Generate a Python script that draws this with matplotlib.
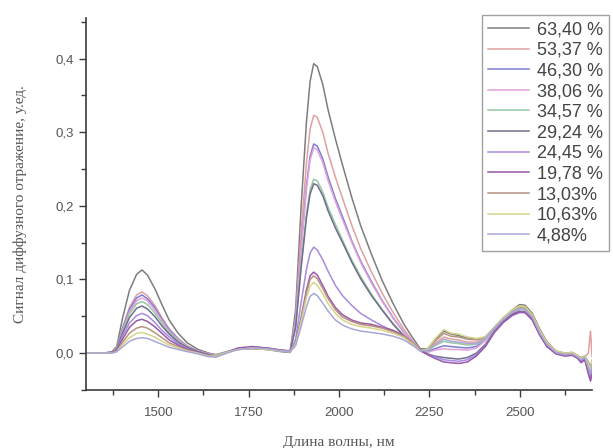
import matplotlib.pyplot as plt
from matplotlib.ticker import MultipleLocator, FuncFormatter

# Wavelength grid, nm
wavelength = [1300, 1340, 1370, 1385, 1400, 1420, 1440, 1455, 1470, 1490, 1510, 1530, 1555, 1580, 1610, 1640,
              1660, 1690, 1720, 1760, 1800, 1840, 1865,
              1880, 1895, 1910, 1920, 1930, 1940, 1955, 1970, 1990, 2010, 2035, 2060, 2090, 2120, 2150, 2180, 2205, 2225,
              2245, 2265, 2290, 2310, 2330, 2355, 2380, 2405, 2430, 2455, 2480,
              2500, 2515, 2535, 2555, 2575, 2600, 2625, 2645, 2660, 2670, 2680, 2690, 2696, 2700]

# Diffuse reflectance signal for each moisture level
y_6340 = [0, 0, 0.001, 0.009, 0.045, 0.085, 0.107, 0.113, 0.106, 0.088, 0.066, 0.045, 0.027, 0.014, 0.005, 0.0,
          -0.002, 0.002, 0.005, 0.006, 0.005, 0.002, 0.001,
          0.059, 0.197, 0.314, 0.369, 0.393, 0.389, 0.365, 0.330, 0.291, 0.255, 0.212, 0.173, 0.134, 0.098, 0.067, 0.039, 0.020, 0.006,
          0.006, 0.018, 0.030, 0.026, 0.024, 0.021, 0.019, 0.022, 0.035, 0.048, 0.059,
          0.066, 0.065, 0.054, 0.033, 0.016, 0.003, 0.000, 0.001, -0.003, -0.006, -0.004, -0.012, -0.020, -0.010]
y_5337 = [0, 0, 0.001, 0.007, 0.033, 0.062, 0.079, 0.083, 0.078, 0.065, 0.048, 0.033, 0.020, 0.010, 0.003, -0.001,
          -0.002, 0.002, 0.005, 0.006, 0.005, 0.003, 0.002,
          0.048, 0.162, 0.258, 0.304, 0.323, 0.320, 0.300, 0.271, 0.239, 0.210, 0.174, 0.142, 0.110, 0.081, 0.055, 0.032, 0.016, 0.005,
          0.004, 0.013, 0.022, 0.019, 0.018, 0.015, 0.015, 0.020, 0.034, 0.047, 0.058,
          0.064, 0.063, 0.052, 0.031, 0.015, 0.002, -0.001, 0.000, -0.004, -0.008, -0.005, 0.000, 0.030, -0.004]
y_4630 = [0, 0, 0.001, 0.006, 0.032, 0.059, 0.075, 0.079, 0.074, 0.062, 0.046, 0.032, 0.019, 0.009, 0.003, -0.001,
          -0.003, 0.002, 0.006, 0.007, 0.006, 0.003, 0.002,
          0.043, 0.142, 0.227, 0.267, 0.284, 0.281, 0.264, 0.239, 0.210, 0.185, 0.153, 0.125, 0.097, 0.071, 0.048, 0.028, 0.014, 0.004,
          0.002, 0.006, 0.010, 0.009, 0.008, 0.007, 0.009, 0.018, 0.033, 0.045, 0.055,
          0.060, 0.059, 0.049, 0.028, 0.012, 0.001, -0.002, -0.001, -0.005, -0.009, -0.006, -0.020, -0.030, -0.018]
y_3806 = [0, 0, 0.001, 0.006, 0.030, 0.056, 0.071, 0.075, 0.071, 0.059, 0.044, 0.030, 0.018, 0.009, 0.003, -0.001,
          -0.003, 0.002, 0.006, 0.007, 0.006, 0.003, 0.002,
          0.042, 0.140, 0.223, 0.262, 0.279, 0.276, 0.259, 0.234, 0.206, 0.181, 0.151, 0.123, 0.095, 0.070, 0.047, 0.028, 0.014, 0.004,
          0.001, 0.004, 0.006, 0.005, 0.005, 0.004, 0.007, 0.017, 0.033, 0.045, 0.055,
          0.060, 0.059, 0.048, 0.028, 0.012, 0.001, -0.002, -0.001, -0.005, -0.010, -0.006, -0.022, -0.031, -0.020]
y_3457 = [0, 0, 0.001, 0.006, 0.028, 0.053, 0.067, 0.070, 0.066, 0.055, 0.041, 0.028, 0.017, 0.008, 0.002, -0.002,
          -0.003, 0.002, 0.006, 0.007, 0.005, 0.003, 0.002,
          0.035, 0.118, 0.189, 0.222, 0.236, 0.234, 0.219, 0.198, 0.175, 0.153, 0.127, 0.104, 0.080, 0.059, 0.040, 0.024, 0.012, 0.004,
          0.003, 0.010, 0.016, 0.014, 0.013, 0.011, 0.012, 0.019, 0.034, 0.046, 0.057,
          0.062, 0.061, 0.050, 0.029, 0.013, 0.002, -0.001, 0.000, -0.004, -0.008, -0.005, -0.018, -0.026, -0.014]
y_2924 = [0, 0, 0.001, 0.005, 0.026, 0.048, 0.061, 0.064, 0.060, 0.050, 0.037, 0.026, 0.015, 0.008, 0.002, -0.002,
          -0.004, 0.001, 0.006, 0.008, 0.007, 0.004, 0.003,
          0.035, 0.115, 0.184, 0.216, 0.230, 0.228, 0.214, 0.193, 0.170, 0.150, 0.124, 0.101, 0.078, 0.058, 0.039, 0.023, 0.012, 0.004,
          -0.001, -0.004, -0.006, -0.007, -0.008, -0.006, 0.000, 0.012, 0.030, 0.043, 0.053,
          0.057, 0.056, 0.046, 0.026, 0.010, 0.000, -0.003, -0.002, -0.006, -0.011, -0.007, -0.024, -0.034, -0.022]
y_2445 = [0, 0, 0.001, 0.004, 0.022, 0.041, 0.051, 0.054, 0.051, 0.042, 0.031, 0.022, 0.013, 0.006, 0.001, -0.003,
          -0.004, 0.001, 0.006, 0.008, 0.007, 0.004, 0.003,
          0.019, 0.068, 0.114, 0.136, 0.144, 0.140, 0.127, 0.111, 0.092, 0.078, 0.065, 0.054, 0.045, 0.037, 0.030, 0.022, 0.012, 0.003,
          -0.002, -0.005, -0.009, -0.010, -0.011, -0.009, -0.002, 0.010, 0.029, 0.042, 0.051,
          0.055, 0.055, 0.045, 0.025, 0.010, 0.000, -0.003, -0.002, -0.006, -0.012, -0.008, -0.026, -0.036, -0.024]
y_1978 = [0, 0, 0.001, 0.004, 0.018, 0.035, 0.044, 0.046, 0.043, 0.036, 0.027, 0.018, 0.011, 0.005, 0.001, -0.003,
          -0.005, 0.001, 0.007, 0.009, 0.007, 0.004, 0.003,
          0.013, 0.048, 0.086, 0.105, 0.110, 0.106, 0.092, 0.077, 0.062, 0.052, 0.045, 0.041, 0.039, 0.035, 0.031, 0.024, 0.013, 0.004,
          -0.002, -0.007, -0.012, -0.013, -0.014, -0.012, -0.004, 0.009, 0.028, 0.042, 0.052,
          0.056, 0.055, 0.045, 0.025, 0.009, -0.001, -0.004, -0.003, -0.007, -0.013, -0.009, -0.028, -0.038, -0.026]
y_1303 = [0, 0, 0.0, 0.003, 0.014, 0.027, 0.034, 0.036, 0.034, 0.028, 0.021, 0.014, 0.009, 0.004, 0.0, -0.004,
          -0.004, 0.001, 0.005, 0.007, 0.006, 0.003, 0.002,
          0.013, 0.046, 0.082, 0.100, 0.105, 0.101, 0.088, 0.074, 0.059, 0.049, 0.043, 0.039, 0.037, 0.034, 0.029, 0.023, 0.013, 0.004,
          0.005, 0.016, 0.027, 0.023, 0.022, 0.019, 0.018, 0.021, 0.035, 0.048, 0.058,
          0.063, 0.062, 0.051, 0.030, 0.014, 0.002, -0.001, 0.000, -0.004, -0.007, -0.005, -0.016, -0.024, -0.012]
y_1063 = [0, 0, 0.0, 0.002, 0.011, 0.021, 0.027, 0.028, 0.026, 0.022, 0.016, 0.011, 0.007, 0.003, 0.0, -0.004,
          -0.004, 0.001, 0.005, 0.007, 0.005, 0.003, 0.002,
          0.012, 0.042, 0.075, 0.091, 0.096, 0.092, 0.081, 0.067, 0.054, 0.045, 0.039, 0.036, 0.034, 0.031, 0.027, 0.021, 0.012, 0.003,
          0.006, 0.019, 0.032, 0.027, 0.026, 0.022, 0.020, 0.022, 0.035, 0.048, 0.059,
          0.064, 0.063, 0.052, 0.031, 0.015, 0.003, 0.000, 0.001, -0.003, -0.007, -0.004, -0.014, -0.022, -0.010]
y_488 = [0, 0, 0.0, 0.002, 0.008, 0.016, 0.020, 0.021, 0.020, 0.016, 0.012, 0.008, 0.005, 0.002, -0.001, -0.005,
         -0.005, 0.000, 0.005, 0.007, 0.006, 0.003, 0.002,
         0.010, 0.036, 0.063, 0.077, 0.081, 0.078, 0.068, 0.057, 0.045, 0.038, 0.033, 0.030, 0.028, 0.026, 0.023, 0.018, 0.010, 0.003,
         0.004, 0.011, 0.019, 0.016, 0.015, 0.013, 0.013, 0.020, 0.034, 0.046, 0.056,
         0.060, 0.059, 0.049, 0.028, 0.012, 0.001, -0.002, -0.001, -0.005, -0.009, -0.006, -0.020, -0.029, -0.016]

series = [y_6340, y_5337, y_4630, y_3806, y_3457, y_2924, y_2445, y_1978, y_1303, y_1063, y_488]
labels = ['63,40 %', '53,37 %', '46,30 %', '38,06 %', '34,57 %', '29,24 %',
          '24,45 %', '19,78 %', '13,03%', '10,63%', '4,88%']
colors = ['#7d7d7d', '#e0a0a0', '#7c7cd6', '#e2a0da', '#98c8a4', '#6e6e8c',
          '#a88ae0', '#9858a8', '#b89080', '#d4d48c', '#a8a8d8']

fig = plt.figure(figsize=(6.13, 4.48), dpi=100)
ax = fig.add_axes([0.1403, 0.1295, 0.8254, 0.8303])

for y, lab, c in zip(series, labels, colors):
    ax.plot(wavelength, y, color=c, lw=1.1, label=lab)

ax.set_xlim(1300, 2700)
ax.set_ylim(-0.05, 0.455)

for side in ['top', 'right']:
    ax.spines[side].set_visible(False)
for side in ['left', 'bottom']:
    ax.spines[side].set_color('#3a3a3a')
    ax.spines[side].set_linewidth(1.2)

ax.xaxis.set_major_locator(MultipleLocator(250))
ax.xaxis.set_minor_locator(MultipleLocator(125))
ax.yaxis.set_major_locator(MultipleLocator(0.1))
ax.yaxis.set_minor_locator(MultipleLocator(0.05))
ax.yaxis.set_major_formatter(FuncFormatter(lambda v, p: f'{v:.1f}'.replace('.', ',')))

ax.tick_params(which='major', direction='out', length=5, width=1.0, color='#3a3a3a',
               labelsize=9.5, labelcolor='#555555')
ax.tick_params(which='minor', direction='out', length=3.5, width=1.0, color='#3a3a3a')
ax.tick_params(axis='x', which='major', pad=7)
ax.tick_params(axis='y', which='major', pad=4)
for t in ax.get_xticklabels() + ax.get_yticklabels():
    t.set_fontfamily('Liberation Sans')

fig.text(0.0326, 0.545, 'Сигнал диффузного отражение, у.ед.', rotation=90,
         ha='center', va='center', fontsize=11, family='Liberation Serif', color='#555555')
fig.text(0.553, 0.013, 'Длина волны, нм', ha='center', va='center',
         fontsize=11, family='Liberation Serif', color='#555555')

leg = ax.legend(loc='upper right', bbox_to_anchor=(0.9935, 0.9665), bbox_transform=fig.transFigure,
                borderaxespad=0, frameon=True, fancybox=False, edgecolor='#8a8a8a',
                prop={'family': 'Liberation Sans', 'size': 13}, labelspacing=0.2,
                handlelength=2.3, handletextpad=0.4, borderpad=0.35)
leg.get_frame().set_linewidth(1.0)
for t in leg.get_texts():
    t.set_color('#444444')

fig.savefig('out.png', dpi=100)
